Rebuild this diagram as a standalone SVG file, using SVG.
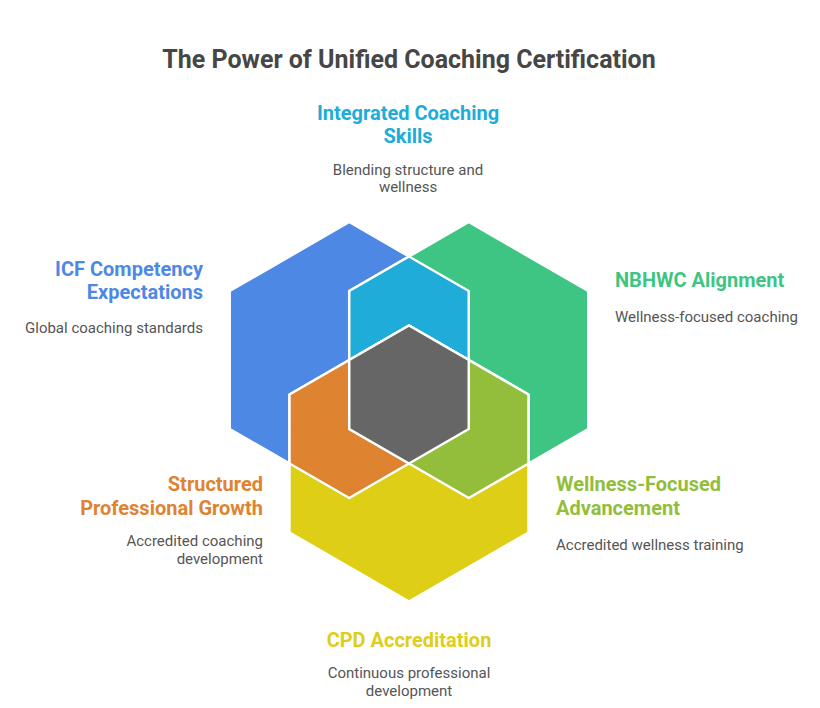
<svg xmlns="http://www.w3.org/2000/svg" width="820" height="708" viewBox="0 0 820 708">
<style>
text{font-family:Roboto,"Liberation Sans",sans-serif}
.t{font-size:25px;font-weight:700;fill:#464646}
.h{font-size:20px;font-weight:700}
.d{font-size:15px;fill:#555555}
.hex{stroke:#ffffff;stroke-width:2.5;stroke-linejoin:round}
</style>
<rect width="820" height="708" fill="#ffffff"/>
<text class="t" x="409" y="68" text-anchor="middle">The Power of Unified Coaching Certification</text>
<g id="hexagons">
<g id="icf-hex"><polygon class="hex" fill="#4E88E5" points="349.24,222 468.76,291 468.76,429 349.24,498 229.72,429 229.72,291"/></g>
<g id="nbhwc-hex"><polygon class="hex" fill="#3EC584" points="468.76,222 588.28,291 588.28,429 468.76,498 349.24,429 349.24,291"/></g>
<g id="cpd-hex"><polygon class="hex" fill="#DFCE16" points="409,325.5 528.52,394.5 528.52,532.5 409,601.5 289.48,532.5 289.48,394.5"/></g>
<g id="integrated-hex"><polygon class="hex" fill="#20ACD8" points="409,256.5 468.76,291 468.76,429 409,463.5 349.24,429 349.24,291"/></g>
<g id="structured-hex"><polygon class="hex" fill="#DE8431" points="409,325.5 468.76,360 468.76,429 349.24,498 289.48,463.5 289.48,394.5"/></g>
<g id="wellness-hex"><polygon class="hex" fill="#93BE3B" points="409,325.5 349.24,360 349.24,429 468.76,498 528.52,463.5 528.52,394.5"/></g>
<g id="center-hex"><polygon class="hex" fill="#666666" points="409,325.5 468.76,360 468.76,429 409,463.5 349.24,429 349.24,360"/></g>
</g>
<g id="integrated-label">
<text class="h" fill="#20ACD8" text-anchor="middle"><tspan x="408" y="120">Integrated Coaching</tspan><tspan x="408" y="143">Skills</tspan></text>
<text class="d" text-anchor="middle"><tspan x="408" y="175">Blending structure and</tspan><tspan x="408" y="192">wellness</tspan></text>
</g>
<g id="icf-label">
<text class="h" fill="#4E88E5" text-anchor="end"><tspan x="203" y="276">ICF Competency</tspan><tspan x="203" y="299">Expectations</tspan></text>
<text class="d" text-anchor="end" x="203" y="333">Global coaching standards</text>
</g>
<g id="nbhwc-label">
<text class="h" fill="#3EC584" x="615" y="287">NBHWC Alignment</text>
<text class="d" x="615" y="322">Wellness-focused coaching</text>
</g>
<g id="structured-label">
<text class="h" fill="#DE8431" text-anchor="end"><tspan x="263" y="491">Structured</tspan><tspan x="263" y="515">Professional Growth</tspan></text>
<text class="d" text-anchor="end"><tspan x="263" y="546">Accredited coaching</tspan><tspan x="263" y="564">development</tspan></text>
</g>
<g id="wellness-label">
<text class="h" fill="#93BE3B"><tspan x="556" y="491">Wellness-Focused</tspan><tspan x="556" y="515">Advancement</tspan></text>
<text class="d" x="556" y="550">Accredited wellness training</text>
</g>
<g id="cpd-label">
<text class="h" fill="#DFCE16" text-anchor="middle" x="409" y="647">CPD Accreditation</text>
<text class="d" text-anchor="middle"><tspan x="409" y="678">Continuous professional</tspan><tspan x="409" y="696">development</tspan></text>
</g>
<g id="connectors"/>
</svg>
